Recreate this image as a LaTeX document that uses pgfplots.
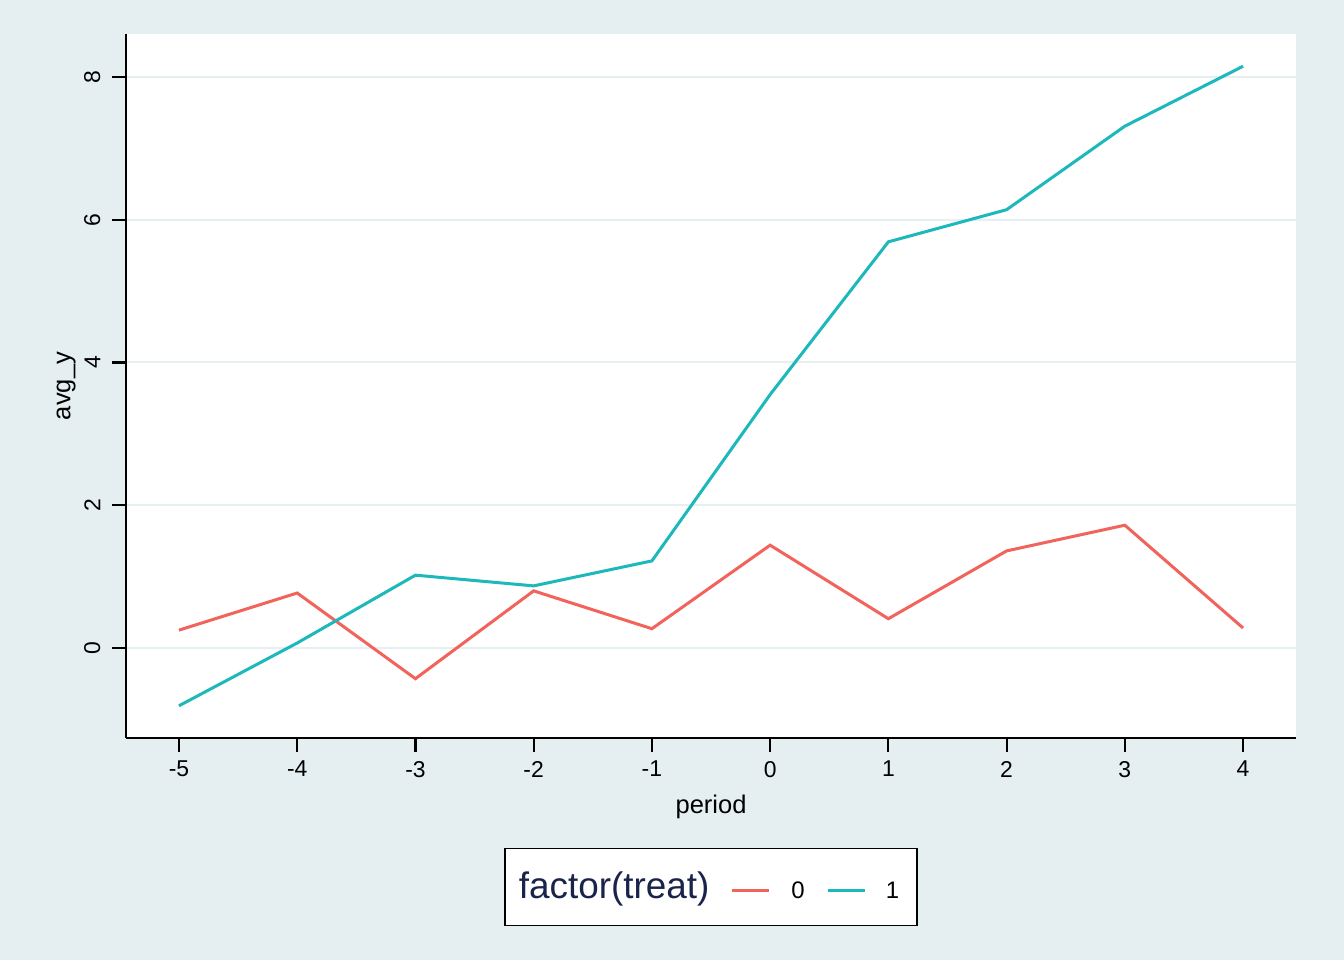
\documentclass[border=0pt]{standalone}
\usepackage{pgfplots}
\pgfplotsset{compat=1.18}
\usepackage{fontspec}
\setmainfont{Liberation Sans}
\definecolor{bgc}{RGB}{229,238,240}
\definecolor{gridc}{RGB}{230,239,241}
\definecolor{redc}{RGB}{242,99,92}
\definecolor{tealc}{RGB}{28,184,187}
\definecolor{navyc}{RGB}{26,36,74}

\pgfplotstableread{
x y
-5 0.25
-4 0.77
-3 -0.43
-2 0.80
-1 0.27
0 1.44
1 0.41
2 1.36
3 1.72
4 0.28
}\treatzero

\pgfplotstableread{
x y
-5 -0.81
-4 0.07
-3 1.02
-2 0.87
-1 1.22
0 3.55
1 5.69
2 6.14
3 7.31
4 8.15
}\treatone

\begin{document}
\begin{tikzpicture}[x=1bp,y=1bp]
\fill[bgc] (0,0) rectangle (672,480);
\begin{axis}[
  at={(63bp,111bp)}, anchor=south west,
  scale only axis, width=585bp, height=352bp,
  xmin=-5.448, xmax=4.448, ymin=-1.261, ymax=8.602,
  axis x line*=bottom, axis y line*=left,
  axis line style={line width=1.3bp, black, -},
  axis background/.style={fill=white},
  xtick={-5,...,4}, ytick={0,2,4,6,8},
  tick align=outside, major tick length=7bp,
  tick style={line width=1.1bp, black},
  ymajorgrids, grid style={line width=1bp, gridc},
  ticklabel style={font=\fontsize{11.5}{13}\selectfont},
  /pgf/number format/assume math mode=true,
  yticklabel style={rotate=90, anchor=south, yshift=2.25bp},
  xticklabel style={yshift=-1bp},
  xlabel={period}, ylabel={avg\_y},
  xlabel style={yshift=-2bp},
  ylabel style={yshift=-2.5bp},
  label style={font=\fontsize{12.8}{15}\selectfont},
  legend columns=3,
  legend style={at={(0.5,-0.2116)}, anchor=center, draw=black, line width=0.6bp,
    fill=white, inner xsep=7bp, inner ysep=12bp, column sep=0pt,
    nodes={inner sep=0pt, anchor=base west}, font=\fontsize{12}{14}\selectfont},
  legend image code/.code={\draw[#1, line width=1.5bp] (0bp,0.4em) -- (18.5bp,0.4em);},
]
\addlegendimage{empty legend}
\addlegendentry{\fontsize{18.5}{21}\selectfont\color{navyc}factor(treat)\hspace{10.5bp}\null}
\addplot[redc, line width=1.5bp] table[x=x,y=y] {\treatzero};
\addlegendentry{\hspace{10.5bp}0\hspace{11bp}\null}
\addplot[tealc, line width=1.5bp] table[x=x,y=y] {\treatone};
\addlegendentry{\hspace{9.5bp}1\hspace{2bp}\null}
\end{axis}
\end{tikzpicture}
\end{document}
